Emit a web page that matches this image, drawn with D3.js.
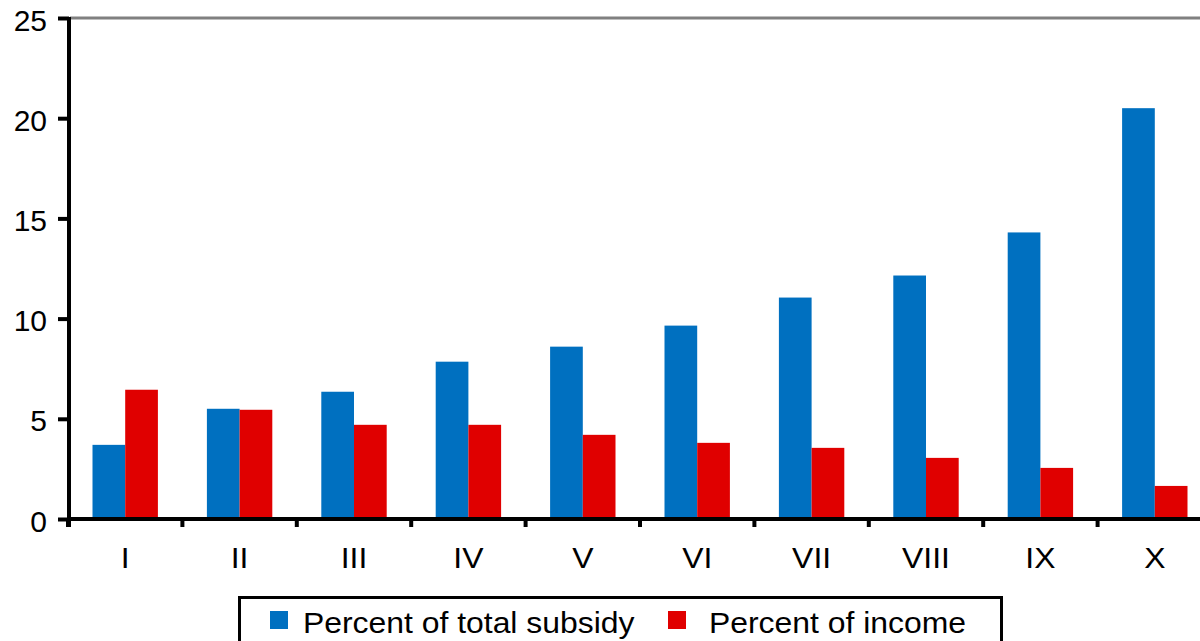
<!DOCTYPE html>
<html>
<head>
<meta charset="utf-8">
<script src="https://cdn.jsdelivr.net/npm/d3@7"></script>
<style>
  html, body { margin: 0; padding: 0; background: #fff; overflow: hidden; }
  svg { display: block; font-family: "Liberation Sans", Arial, sans-serif; }
</style>
</head>
<body>
<svg id="chart" width="1200" height="641"></svg>
<script>
// Deciles of households
const categories = ["I", "II", "III", "IV", "V", "VI", "VII", "VIII", "IX", "X"];
// Share of the total subsidy received by each decile (%)
const subsidyShare = [3.7, 5.5, 6.35, 7.85, 8.6, 9.65, 11.05, 12.15, 14.3, 20.5];
// Subsidy as a share of the decile's income (%)
const incomeShare = [6.45, 5.45, 4.7, 4.7, 4.2, 3.8, 3.55, 3.05, 2.55, 1.65];
const seriesNames = ["Percent of total subsidy", "Percent of income"];
const seriesColors = ["#0070C0", "#E00000"];
const yTicks = [0, 5, 10, 15, 20, 25];

const svg = d3.select("#chart");
const textStretch = 1.1; // labels are set slightly wide

const x0 = d3.scaleBand().domain(categories).range([68, 68 + 114.4 * categories.length]);
const x1 = d3.scaleBand().domain(seriesNames).range([24.5, x0.bandwidth() - 24.5]);
const y = d3.scaleLinear().domain([0, 25]).range([519, 18]);

// Grey line along the top of the plot area
svg.append("line")
  .attr("x1", 70).attr("x2", 1200)
  .attr("y1", y(25)).attr("y2", y(25))
  .attr("stroke", "#808080").attr("stroke-width", 3);

// Bars
const rows = categories.map((c, i) => ({ cat: c, values: [subsidyShare[i], incomeShare[i]] }));
const groups = svg.append("g").selectAll("g")
  .data(rows).join("g")
  .attr("transform", d => `translate(${x0(d.cat)},0)`);
groups.selectAll("rect")
  .data(d => d.values.map((v, k) => ({ key: seriesNames[k], v, k })))
  .join("rect")
  .attr("x", d => x1(d.key))
  .attr("width", x1.bandwidth())
  .attr("y", d => y(d.v))
  .attr("height", d => y(0) - y(d.v))
  .attr("fill", d => seriesColors[d.k]);

// Y axis
const yAxis = svg.append("g")
  .attr("transform", "translate(69,0)")
  .call(d3.axisLeft(y).tickValues(yTicks).tickSize(11).tickPadding(11).tickSizeOuter(0));
yAxis.select(".domain").attr("stroke", "#000").attr("stroke-width", 4)
  .attr("d", `M0,${y(25) - 1}V${y(0) + 8}`);
yAxis.selectAll(".tick line").attr("stroke", "#000").attr("stroke-width", 4);
yAxis.selectAll(".tick text").attr("font-size", 30).attr("fill", "#000")
  .attr("font-family", "Liberation Sans, Arial, sans-serif").attr("dy", "0.4em");

// X axis: ticks sit on the category boundaries
const xAxis = svg.append("g").attr("transform", `translate(0,${y(0)})`);
xAxis.append("line")
  .attr("x1", 67).attr("x2", 1200)
  .attr("y1", 0).attr("y2", 0)
  .attr("stroke", "#000").attr("stroke-width", 4);
xAxis.selectAll("line.tk")
  .data(categories).join("line")
  .attr("class", "tk")
  .attr("x1", d => x0(d)).attr("x2", d => x0(d))
  .attr("y1", 0).attr("y2", 8)
  .attr("stroke", "#000").attr("stroke-width", 4);
xAxis.selectAll("text")
  .data(categories).join("text")
  .attr("transform", d => `translate(${x0(d) + x0.bandwidth() / 2},49) scale(${textStretch},1)`)
  .attr("text-anchor", "middle")
  .attr("font-size", 29)
  .attr("fill", "#000")
  .text(d => d);

// Legend
const legend = svg.append("g");
legend.append("rect")
  .attr("x", 239.5).attr("y", 597.5)
  .attr("width", 762).attr("height", 80)
  .attr("fill", "#fff").attr("stroke", "#000").attr("stroke-width", 3);
const legendSwatchX = [270, 668];
const legendTextX = [303, 709];
seriesNames.forEach((name, k) => {
  legend.append("rect")
    .attr("x", legendSwatchX[k]).attr("y", 611)
    .attr("width", 18).attr("height", 18)
    .attr("fill", seriesColors[k]);
  legend.append("text")
    .attr("transform", `translate(${legendTextX[k]},633) scale(${textStretch},1)`)
    .attr("font-size", 29)
    .attr("fill", "#000")
    .text(name);
});
</script>
</body>
</html>
